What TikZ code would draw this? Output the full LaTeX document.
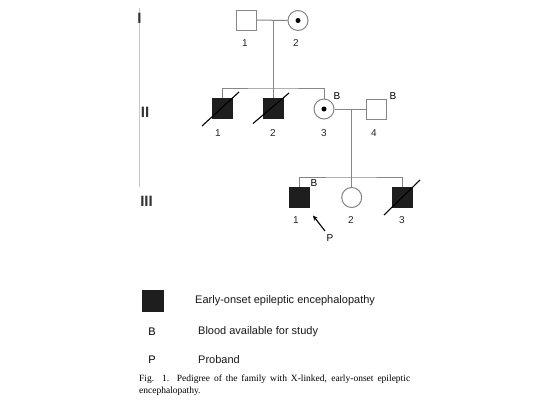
\documentclass[tikz,border=0pt]{standalone}
\usepackage{fontspec}
\setmainfont{Liberation Sans}
\newfontfamily\capfont{Liberation Serif}
\usetikzlibrary{arrows.meta}
\definecolor{linec}{HTML}{858585}
\definecolor{affc}{HTML}{1E1E1E}
\definecolor{genline}{HTML}{C8C8C8}
\begin{document}
\begin{tikzpicture}[x=1pt,y=-1pt,
  male/.style={rectangle,draw=linec,line width=1pt,minimum size=20pt,inner sep=0pt},
  female/.style={circle,draw=linec,line width=1pt,minimum size=20pt,inner sep=0pt},
  affected/.style={fill=affc,draw=affc},
  carrierdot/.style={circle,fill=black,minimum size=5pt,inner sep=0pt},
  conn/.style={draw=linec,line width=1pt},
  deceased/.style={draw=black,line width=1.1pt},
  numlab/.style={font=\fontsize{10}{12}\selectfont,text=black!85,inner sep=0pt},
  blab/.style={font=\fontsize{10}{12}\selectfont,inner sep=0pt},
  genlab/.style={font=\fontsize{15}{17}\selectfont\bfseries,inner sep=0pt,text=black!80},
  legtext/.style={font=\fontsize{11}{13}\selectfont,anchor=west,inner sep=0pt,text=black!90}
]
\useasboundingbox (0,0) rectangle (560,400);
\fill[white] (0,0) rectangle (560,400);

% generation axis
\coordinate (gtop) at (139.5,8);
\coordinate (gbot) at (139.5,187);
\draw[genline,line width=0.8pt] (gtop) -- (gbot);
\node[genlab] (gI) at (139.5,18) {I};
\node[genlab] (gII) at (145,112) {II};
\node[genlab] (gIII) at (146.5,201) {III};

% Generation I
\node[male] (I1) at (246,20) {};
\node[female] (I2) at (298,20.5) {};
\node[carrierdot] (I2d) at (I2.center) {};
\node[numlab] (n11) at (245,43) {1};
\node[numlab] (n12) at (296,43) {2};
\coordinate (m1) at (273,20);
\coordinate (s1) at (273,88);
\draw[conn] (I1.east) -- (I2.west);
\draw[conn] (m1) -- (s1);

% Generation II
\node[male,affected] (II1) at (222,108.5) {};
\node[male,affected] (II2) at (273,108.5) {};
\node[female] (II3) at (324,109) {};
\node[carrierdot] (II3d) at (II3.center) {};
\node[male] (II4) at (376,109) {};
\draw[conn] (II1.north) |- (s1) -| (II3.north);
\draw[conn] (s1) -- (II2.north);
\draw[deceased] ([shift={(-20,17.5)}]II1.center) -- ([shift={(17,-16.5)}]II1.center);
\draw[deceased] ([shift={(-20,15)}]II2.center) -- ([shift={(16,-15.5)}]II2.center);
\node[blab] (bII3) at (337,96.5) {B};
\node[blab] (bII4) at (393,96.5) {B};
\node[numlab] (n21) at (218,133) {1};
\node[numlab] (n22) at (273,133) {2};
\node[numlab] (n23) at (324,133) {3};
\node[numlab] (n24) at (374,133) {4};
\coordinate (m2) at (351.7,109);
\coordinate (s2) at (351.7,177);
\draw[conn] (II3.east) -- (II4.west);
\draw[conn] (m2) -- (s2);

% Generation III
\node[male,affected] (III1) at (299,197) {};
\node[female] (III2) at (351.7,197.5) {};
\node[male,affected] (III3) at (402,197) {};
\draw[conn] (III1.north) |- (s2) -| (III3.north);
\draw[conn] (s2) -- (III2.north);
\draw[deceased] ([shift={(-18,18)}]III3.center) -- ([shift={(18,-17)}]III3.center);
\node[blab] (bIII1) at (314,183.5) {B};
\node[numlab] (n31) at (296,220) {1};
\node[numlab] (n32) at (351,220) {2};
\node[numlab] (n33) at (402,220) {3};
\node[blab] (Plab) at (330,238.5) {P};
\coordinate (ptail) at (325,231);
\coordinate (phead) at (313,215.5);
\draw[black,line width=1.1pt,-{Stealth[length=5pt,width=4.5pt]}] (ptail) -- (phead);

% Legend
\node[male,affected,minimum size=21pt] (legsq) at (153,301) {};
\node[legtext] (leg1) at (195,301) {Early-onset epileptic encephalopathy};
\node[font=\fontsize{11}{13}\selectfont,inner sep=0pt] (legB) at (152,332) {B};
\node[legtext] (leg2) at (198,332) {Blood available for study};
\node[font=\fontsize{11}{13}\selectfont,inner sep=0pt] (legP) at (152,360) {P};
\node[legtext] (leg3) at (198,360) {Proband};

% Caption
\node[anchor=north west,inner sep=0pt,text width=271pt,align=justify,
      font=\capfont\fontsize{9.5}{11.5}\selectfont] (cap) at (139,375)
  {Fig. 1. Pedigree of the family with X-linked, early-onset epileptic \mbox{encephalopathy.}};
\end{tikzpicture}
\end{document}
